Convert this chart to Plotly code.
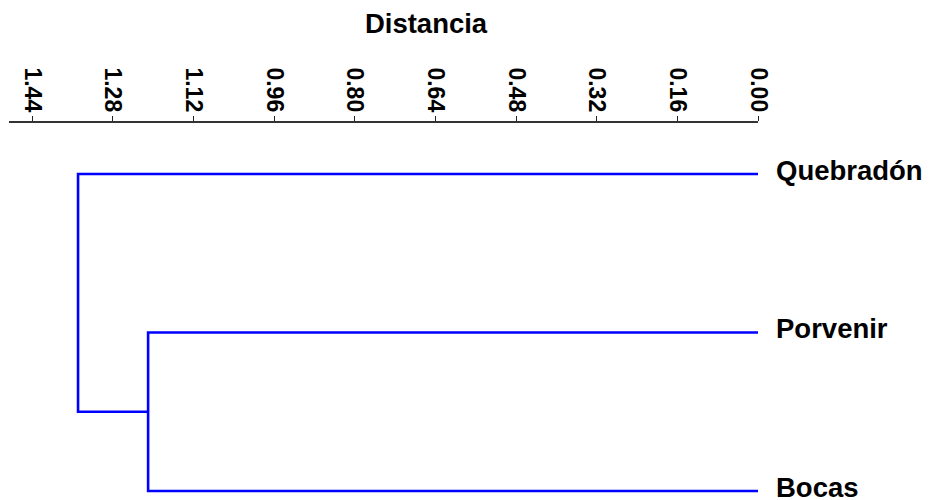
import plotly.graph_objects as go

# ---- data ----
leaves = ["Quebradón", "Porvenir", "Bocas"]
leaf_pos = [3, 2, 1]
# linkage: (left member, right member, distance); members >= 3 refer to earlier clusters
linkage = [(1, 2, 1.21), (0, 3, 1.349)]
tick_vals = [1.44, 1.28, 1.12, 0.96, 0.80, 0.64, 0.48, 0.32, 0.16, 0.00]
tick_text = ["1.44", "1.28", "1.12", "0.96", "0.80", "0.64", "0.48", "0.32", "0.16", "0.00"]

# ---- build dendrogram path from linkage ----
node_y = {i: p for i, p in enumerate(leaf_pos)}
node_h = {i: 0.0 for i in range(len(leaves))}
xs, ys = [], []
for k, (a, b, d) in enumerate(linkage):
    xs += [node_h[a], d, d, node_h[b], None]
    ys += [node_y[a], node_y[a], node_y[b], node_y[b], None]
    nid = len(leaves) + k
    node_y[nid] = (node_y[a] + node_y[b]) / 2
    node_h[nid] = d

fig = go.Figure()
fig.add_trace(go.Scatter(x=xs, y=ys, mode="lines",
                         line=dict(color="#0000FF", width=2.6),
                         hoverinfo="skip", showlegend=False))

font_family = "Liberation Sans, Arial, sans-serif"
# page body has an 8px margin, so the figure is sized/offset to compensate
fig.update_layout(
    width=930, height=492,
    paper_bgcolor="white", plot_bgcolor="white",
    margin=dict(l=1, r=180, t=115, b=5),
    title=dict(text="Distancia", x=0.4495, xref="container", xanchor="center",
               y=0.9695, yref="container", yanchor="middle",
               font=dict(family=font_family, size=27.5, color="black", weight="bold")),
    xaxis=dict(side="top", range=[1.486, 0], tickvals=tick_vals, ticktext=tick_text,
               tickangle=90, ticks="outside", ticklen=5, tickcolor="#222", tickwidth=1,
               showline=True, linecolor="#333", linewidth=1.5, showgrid=False,
               zeroline=False, ticklabelstandoff=-4, ticklabeloverflow="allow",
               automargin=False,
               tickfont=dict(family=font_family, size=23, color="black", weight="bold")),
    yaxis=dict(side="right", range=[0.975, 3.322], tickvals=leaf_pos, ticktext=leaves,
               ticks="", showline=False, showgrid=False, zeroline=False,
               ticklabelstandoff=17, ticklabelshift=-4, ticklabeloverflow="allow",
               automargin=False,
               tickfont=dict(family=font_family, size=27.5, color="black", weight="bold")),
)

fig.write_html("out.html")
